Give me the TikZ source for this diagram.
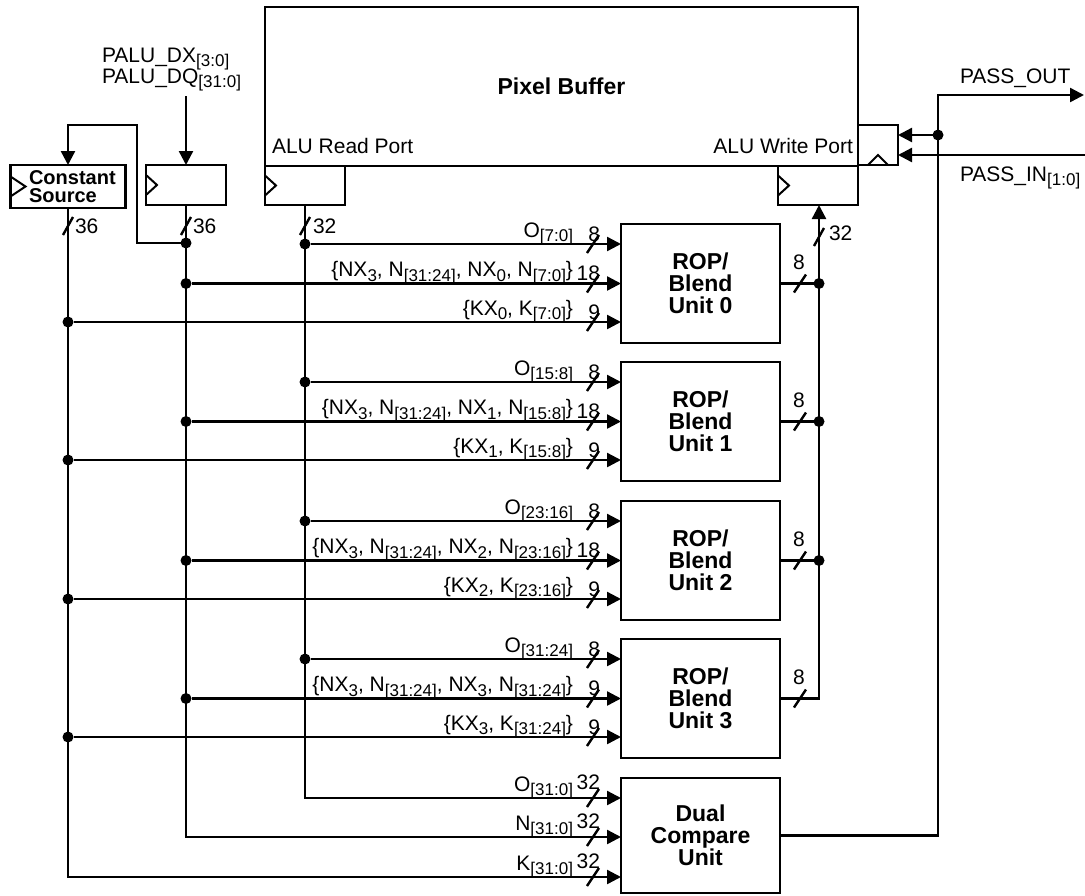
\documentclass[tikz,border=0pt]{standalone}
\usepackage{fontspec}
\setmainfont{Liberation Sans}
\usetikzlibrary{arrows.meta}
\newcommand{\sbs}[1]{\raisebox{-4.5pt}{\fontsize{17}{17}\selectfont #1}}
\begin{document}
\begin{tikzpicture}[x=1pt,y=-1pt,line width=2.4pt,
  every node/.style={font=\fontsize{21}{22}\selectfont, inner sep=0pt, outer sep=0pt},
  box/.style={draw, line width=2.4pt, rectangle},
  bfnt/.style={font=\fontsize{23}{22}\selectfont\bfseries},
  unitbox/.style={box, minimum width=159pt, minimum height=119pt, align=center, bfnt},
  arr/.style={-{Triangle[length=14pt,width=14pt]}},
  dotc/.style={circle, fill, inner sep=0pt, minimum size=11pt},
  lbl/.style={anchor=base east},
  num/.style={anchor=base east},
  vnum/.style={anchor=base west}]
\useasboundingbox (0,0) rectangle (1085,895);
% main blocks
\node[box, minimum width=593pt, minimum height=159pt, bfnt] (pb) at (561.5,86.5) {Pixel Buffer};
\node[box, minimum width=80pt, minimum height=39pt] (readp) at (305,185.5) {};
\node[box, minimum width=80pt, minimum height=39pt] (writep) at (818,185.5) {};
\node[box, minimum width=40pt, minimum height=40pt] (passr) at (878,145) {};
\node[box, minimum width=80pt, minimum height=40pt] (palur) at (186,185) {};
\node[box, minimum width=115pt, minimum height=43pt] (cs) at (68,186.5) {};
\node[anchor=base west, font=\fontsize{20}{18}\selectfont\bfseries] (cst1) at (29,184) {Constant};
\node[anchor=base west, font=\fontsize{20}{18}\selectfont\bfseries] (cst2) at (29,202) {Source};
\node[anchor=base west] (rpl) at (272,153) {ALU Read Port};
\node[anchor=base east] (wpl) at (853,153) {ALU Write Port};
\node[anchor=base west] (dx) at (102,62) {PALU\_DX\sbs{[3:0]}};
\node[anchor=base west] (dq) at (102,83) {PALU\_DQ\sbs{[31:0]}};
\node[anchor=base west] (pol) at (960,83) {PASS\_OUT};
\node[anchor=base west] (pil) at (960,181) {PASS\_IN\sbs{[1:0]}};
% clock triangles
\draw[line width=2pt] (cs.west) ++(0,-10) -- ++(15,10) -- ++(-15,10);
\draw[line width=2pt] (palur.west) ++(0,-10) -- ++(11,10) -- ++(-11,10);
\draw[line width=2pt] (readp.west) ++(0,-10) -- ++(11,10) -- ++(-11,10);
\draw[line width=2pt] (writep.west) ++(0,-10) -- ++(11,10) -- ++(-11,10);
\draw[line width=2pt] (passr.south) ++(-10,0) -- ++(10,-10) -- ++(10,10);
% units
\foreach \k/\t/\ol/\nl/\nn/\kl in {
 0/224/{O\sbs{[7:0]}}/{\{NX\sbs{3}, N\sbs{[31:24]}, NX\sbs{0}, N\sbs{[7:0]}\}}/18/{\{KX\sbs{0}, K\sbs{[7:0]}\}},
 1/362/{O\sbs{[15:8]}}/{\{NX\sbs{3}, N\sbs{[31:24]}, NX\sbs{1}, N\sbs{[15:8]}\}}/18/{\{KX\sbs{1}, K\sbs{[15:8]}\}},
 2/501/{O\sbs{[23:16]}}/{\{NX\sbs{3}, N\sbs{[31:24]}, NX\sbs{2}, N\sbs{[23:16]}\}}/18/{\{KX\sbs{2}, K\sbs{[23:16]}\}},
 3/639/{O\sbs{[31:24]}}/{\{NX\sbs{3}, N\sbs{[31:24]}, NX\sbs{3}, N\sbs{[31:24]}\}}/9/{\{KX\sbs{3}, K\sbs{[31:24]}\}}} {
  \node[unitbox] (u\k) at (700.5,\t+59.5) {ROP/\\Blend\\Unit \k};
  \node[dotc] (o\k) at (305,\t+20) {};
  \node[dotc] (n\k) at (186,\t+59.5) {};
  \node[dotc] (k\k) at (68,\t+98) {};
  \draw[arr] (o\k) -- (u\k.west |- o\k);
  \draw[arr] (n\k) -- (u\k.west |- n\k);
  \draw[arr] (k\k) -- (u\k.west |- k\k);
  \node[lbl] (ol\k) at (573,\t+13) {\ol};
  \node[lbl] (nl\k) at (573,\t+52.5) {\nl};
  \node[lbl] (kl\k) at (573,\t+91) {\kl};
  \node[num] (on\k) at (600,\t+17) {8};
  \node[num] (nn\k) at (600,\t+56.5) {\nn};
  \node[num] (kn\k) at (600,\t+95) {9};
  \draw (593,\t+20) ++(-6,9) -- ++(12,-18);
  \draw (593,\t+59.5) ++(-6,9) -- ++(12,-18);
  \draw (593,\t+98) ++(-6,9) -- ++(12,-18);
  \node[anchor=base] (outn\k) at (799,\t+45.5) {8};
  \draw (800,\t+59.5) ++(-6,9) -- ++(12,-18);
}
% dual compare
\node[unitbox, minimum height=115pt] (dual) at (700.5,835.5) {Dual\\Compare\\Unit};
\coordinate (ob) at (305,798);
\coordinate (nb) at (186,837);
\coordinate (kb) at (68,877);
\draw[arr] (readp.south) -- (ob) -- (dual.west |- ob);
\draw[arr] (palur.south) -- (nb) -- (dual.west |- nb);
\draw[arr] (cs.south) -- (kb) -- (dual.west |- kb);
\node[lbl] (dol) at (573,791) {O\sbs{[31:0]}};
\node[lbl] (dnl) at (573,830) {N\sbs{[31:0]}};
\node[lbl] (dkl) at (573,870) {K\sbs{[31:0]}};
\node[num] (don) at (600,789) {32};
\node[num] (dnn) at (600,828) {32};
\node[num] (dkn) at (600,868) {32};
\draw (593,798) ++(-6,9) -- ++(12,-18);
\draw (593,837) ++(-6,9) -- ++(12,-18);
\draw (593,877) ++(-6,9) -- ++(12,-18);
% top buses
\node[dotc] (fb) at (186,243) {};
\draw[arr] (fb.center) -| (137,125) -| (cs.north);
\coordinate (paluin) at (186,96);
\draw[arr] (paluin) -- (palur.north);
\draw (68,226) ++(-5,9) -- ++(10,-18);
\draw (186,226) ++(-5,9) -- ++(10,-18);
\draw (305,226) ++(-5,9) -- ++(10,-18);
\node[vnum] (c36) at (75,233) {36};
\node[vnum] (p36) at (193,233) {36};
\node[vnum] (r32) at (313,233) {32};
% write bus
\coordinate (wx) at (819,0);
\foreach \k in {0,1,2} {
  \node[dotc] (w\k) at (wx |- u\k.east) {};
  \draw (u\k.east) -- (w\k);
}
\draw[arr] (u3.east) -| (wx |- writep.south);
\draw (819,237) ++(-5,9) -- ++(10,-18);
\node[vnum] (w32) at (829,240) {32};
% pass
\coordinate (pout) at (1084,95);
\coordinate (pin) at (1085,155);
\node[dotc] (pd) at (938,135) {};
\draw[arr] (dual.east) -| (938,95) -- (pout);
\draw[arr] (pd) -- (passr.east |- pd);
\draw[arr] (pin) -- (passr.east |- pin);
\end{tikzpicture}
\end{document}
